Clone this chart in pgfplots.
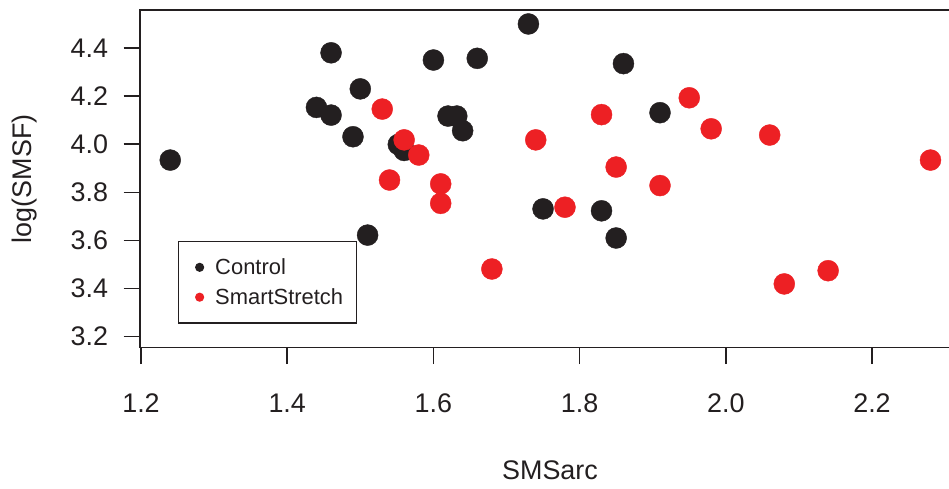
\documentclass[border=0pt]{standalone}
\usepackage{pgfplots}
\pgfplotsset{compat=1.18}
\usepackage{fontspec}
\setmainfont{Liberation Sans}

\definecolor{ink}{RGB}{35,31,32}
\definecolor{ctrl}{RGB}{35,31,32}
\definecolor{smart}{RGB}{237,32,36}

\newcommand{\ticksize}{\fontsize{27}{30}\selectfont}
\newcommand{\labsize}{\fontsize{27}{30}\selectfont}
\newcommand{\legsize}{\fontsize{22}{24}\selectfont}

\begin{document}
\begin{tikzpicture}
\begin{axis}[
  scale only axis,
  width=820bp, height=337.7bp,
  xmin=1.19863, xmax=2.32038,
  ymin=3.1538, ymax=4.5580,
  axis line style={ink, line width=1.5bp},
  xtick={1.2,1.4,1.6,1.8,2.0,2.2},
  ytick={3.2,3.4,3.6,3.8,4.0,4.2,4.4},
  xtick pos=bottom, ytick pos=left,
  tick align=outside,
  major tick length=16.5bp,
  tick style={ink, line width=1.5bp},
  /pgf/number format/assume math mode=true,
  xticklabel style={font=\ticksize, text=ink, yshift=-26bp,
    /pgf/number format/.cd, fixed, fixed zerofill, precision=1},
  yticklabel style={font=\ticksize, text=ink, xshift=-12bp,
    /pgf/number format/.cd, fixed, fixed zerofill, precision=1},
  xlabel={SMSarc},
  ylabel={log(SMSF)},
  xlabel style={at={(rel axis cs:0.5,-0.36216)}, anchor=center, font=\labsize, text=ink},
  ylabel style={at={(rel axis cs:-0.14024,0.5)}, anchor=center, font=\labsize, text=ink},
  legend style={at={(rel axis cs:0.04598,0.31596)}, anchor=north west,
    draw=ink, line width=1.3bp, fill=white,
    inner xsep=11.6bp, inner ysep=15bp, row sep=8.5bp,
    font=\legsize, text=ink,
    /tikz/every odd column/.append style={column sep=9bp}},
  legend cell align=left,
  legend image code/.code={%
    \path[draw=none, fill=none] (-9.7bp,0bp) -- (4.6bp,0bp);
    \fill[#1, draw=none] (0bp,0bp) circle (4.6bp);},
]
\addplot[only marks, mark=*, mark size=10.5bp, color=ctrl, mark options={draw=none, fill=ctrl}]
  table {
x     y
1.240 3.934
1.460 4.380
1.500 4.230
1.440 4.153
1.460 4.121
1.490 4.031
1.510 3.622
1.730 4.500
1.600 4.350
1.660 4.357
1.620 4.117
1.632 4.117
1.640 4.056
1.552 3.999
1.560 3.974
1.750 3.731
1.830 3.723
1.860 4.335
1.910 4.131
1.850 3.610
};
\addlegendentry{Control}
\addplot[only marks, mark=*, mark size=10.5bp, color=smart, mark options={draw=none, fill=smart}]
  table {
x     y
1.530 4.146
1.560 4.018
1.580 3.955
1.740 4.018
1.830 4.123
1.950 4.193
1.980 4.064
2.060 4.038
1.850 3.905
1.910 3.828
2.280 3.934
2.140 3.474
2.080 3.419
1.540 3.851
1.610 3.835
1.610 3.754
1.680 3.481
1.780 3.738
};
\addlegendentry{SmartStretch}
\coordinate (o) at (rel axis cs:0,0);
\end{axis}
\pgfresetboundingbox
\path[use as bounding box] ([shift={(-140bp,-141.3bp)}]o) rectangle ([shift={(809bp,347.7bp)}]o);
\end{tikzpicture}
\end{document}
